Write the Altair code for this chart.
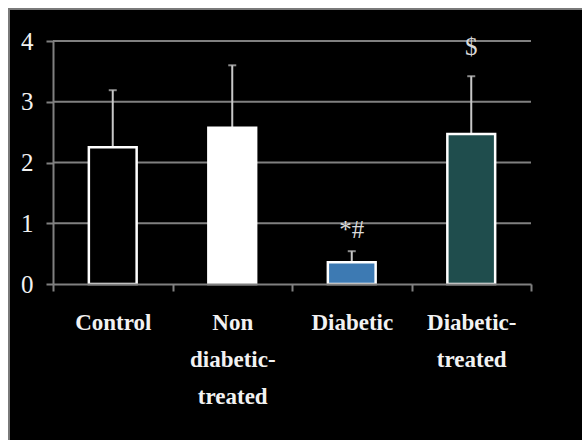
import altair as alt
import pandas as pd

groups = ["Control", "Non|diabetic-|treated", "Diabetic", "Diabetic-|treated"]
means = [2.25, 2.57, 0.36, 2.47]
upper = [3.19, 3.60, 0.54, 3.42]
fills = ["#000000", "#ffffff", "#3d7ab3", "#1f4d4d"]
marks = ["", "", "*#", "$"]
mark_y = [None, None, 0.89, 3.90]
grid_values = [1, 2, 3, 4]

df = pd.DataFrame({"group": groups, "mean": means, "upper": upper,
                   "mark": marks, "mark_y": mark_y})
gdf = pd.DataFrame({"v": grid_values})

W, H = 478, 243

xenc = alt.X("group:N", sort=groups, title=None,
             scale=alt.Scale(paddingInner=0, paddingOuter=0),
             axis=alt.Axis(labelAngle=0, tickBand="extent", domainColor="#808080",
                           domainWidth=2, tickColor="#808080", tickWidth=2, tickSize=7,
                           labelColor="#f2f2f2", labelFont="Liberation Serif",
                           labelFontWeight="bold", labelFontSize=23, labelAlign="center",
                           labelLineHeight=37, labelPadding=20, labelBaseline="top",
                           labelExpr="split(datum.label, '|')", zindex=1))
yscale = alt.Scale(domain=[0, 4], nice=False)

frame = alt.Chart(pd.DataFrame({"a": [0]})).mark_rect(
    fill="black", stroke="#7a7a7a", strokeWidth=2
).encode(x=alt.value(-44), x2=alt.value(540), y=alt.value(-32), y2=alt.value(410))

grid = alt.Chart(gdf).mark_rule(color="#808080", strokeWidth=2).encode(
    y=alt.Y("v:Q", scale=yscale)
)

bars = alt.Chart(df).mark_bar(
    width=alt.RelativeBandSize(0.4), stroke="white", strokeWidth=2.5
).encode(
    x=xenc,
    y=alt.Y("mean:Q", scale=yscale, title=None,
            axis=alt.Axis(values=[0, 1, 2, 3, 4], format="d", grid=False,
                          domainColor="#808080",
                          domainWidth=2, tickColor="#808080", tickWidth=2, tickSize=7,
                          labelColor="#f2f2f2", labelFont="Liberation Serif",
                          labelFontSize=25, labelPadding=13, zindex=1)),
    color=alt.Color("group:N", scale=alt.Scale(domain=groups, range=fills), legend=None),
)

err = alt.Chart(df).mark_rule(color="#c8c8c8", strokeWidth=2).encode(
    x=alt.X("group:N", sort=groups), y=alt.Y("mean:Q", scale=yscale), y2="upper:Q"
)
caps = alt.Chart(df).mark_tick(color="#c8c8c8", size=8, thickness=2).encode(
    x=alt.X("group:N", sort=groups), y=alt.Y("upper:Q", scale=yscale)
)
ann = alt.Chart(df).transform_filter("datum.mark_y != null").mark_text(
    color="#d9d9d9", font="Liberation Serif", fontSize=25, baseline="middle"
).encode(
    x=alt.X("group:N", sort=groups), y=alt.Y("mark_y:Q", scale=yscale), text="mark:N"
)

chart = alt.layer(frame, grid, err, caps, bars, ann).properties(
    width=W, height=H,
    autosize=alt.AutoSizeParams(type="none"),
    padding={"left": 53, "top": 41, "right": 51, "bottom": 156},
    background="white",
).configure_view(stroke=None)

chart.save("out.html", embed_options={"renderer": "svg", "actions": False})
